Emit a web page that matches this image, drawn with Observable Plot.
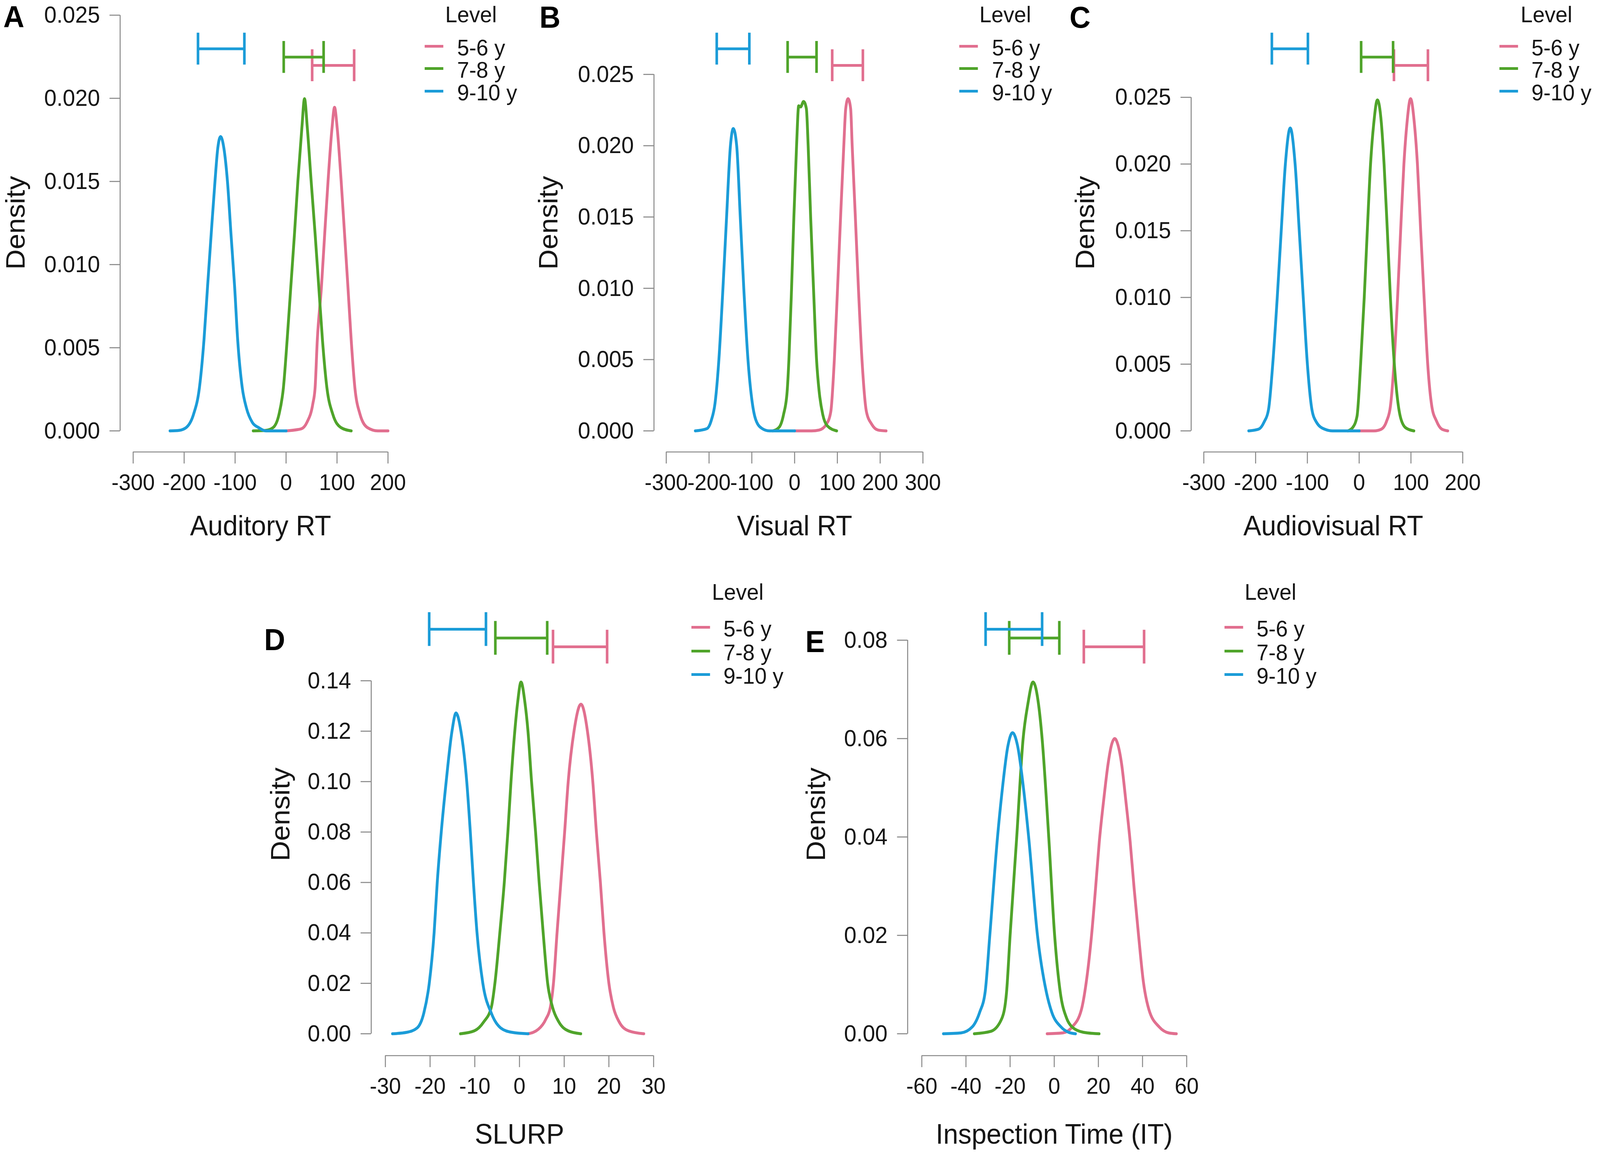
<!DOCTYPE html>
<html><head><meta charset="utf-8">
<script src="https://cdn.jsdelivr.net/npm/d3@7"></script>
<script src="https://cdn.jsdelivr.net/npm/@observablehq/plot@0.6"></script>
<style>
html,body{margin:0;padding:0;background:#fff;overflow:hidden;}
#wrap{position:relative;overflow:hidden;background:#fff;}
#fig{position:absolute;left:0;top:0;width:4295px;height:2958px;background:#fff;font-family:"Liberation Sans",Arial,Helvetica,sans-serif;color:#151515;transform-origin:0 0;}
.t{position:absolute;line-height:1;white-space:nowrap;}
.sw{position:absolute;height:7px;}
#fig svg{position:absolute;}
</style></head><body><div id="wrap"><div id="fig"></div></div>
<script>
// ---------- categories & labels ----------
const levels = ["5-6 y", "7-8 y", "9-10 y"];
const legendTitle = "Level";
const panelLetters = ["A", "B", "C", "D", "E"];
const xTitles = ["Auditory RT", "Visual RT", "Audiovisual RT", "SLURP", "Inspection Time (IT)"];
const yTitle = "Density";

// ---------- tick values ----------
const xTicksAud = [-300, -200, -100, 0, 100, 200];
const xTicksVis = [-300, -200, -100, 0, 100, 200, 300];
const xTicksAV = [-300, -200, -100, 0, 100, 200];
const xTicksSLURP = [-30, -20, -10, 0, 10, 20, 30];
const xTicksIT = [-60, -40, -20, 0, 20, 40, 60];
const yTicksRT = [0, 0.005, 0.010, 0.015, 0.020, 0.025];
const yTicksSLURP = [0, 0.02, 0.04, 0.06, 0.08, 0.10, 0.12, 0.14];
const yTicksIT = [0, 0.02, 0.04, 0.06, 0.08];

// ---------- density curves: [value, density] ----------
const aud56 = [[0,0],[29.5,0.00012],[41.1,0.00052],[52.6,0.00164],[57,0.0026],[61.3,0.00547],[69.4,0.00866],[75.8,0.01184],[82.4,0.01503],[90.2,0.01822],[95.1,0.01946],[100.3,0.01822],[108.1,0.01503],[114.8,0.01184],[121.4,0.00866],[127.8,0.00547],[135,0.0026],[145.1,0.001],[159.6,0.0002],[180,0],[200,0]];
const aud78 = [[-64.4,0],[-40,0.00003],[-25.4,0.0002],[-13.8,0.001],[-5.2,0.0026],[2.1,0.00547],[9.3,0.00866],[16.5,0.01184],[23.2,0.01503],[31,0.01822],[36.2,0.01998],[41.7,0.01822],[49.2,0.01503],[57,0.01184],[64.2,0.00866],[71.4,0.00547],[80.1,0.0026],[91.7,0.001],[107.6,0.0002],[127.8,0]];
const aud910 = [[-227.7,0],[-210,0.00003],[-196,0.0002],[-181.5,0.001],[-170,0.0026],[-161,0.0055],[-154,0.0087],[-147,0.0118],[-139.5,0.015],[-134,0.017],[-128.5,0.0177],[-122,0.017],[-115,0.015],[-108,0.0118],[-101,0.0087],[-95,0.0055],[-86,0.0026],[-78,0.0014],[-66,0.0005],[-54,0.0002],[-40,0],[0,0]];

const vis56 = [[0,0],[40,0],[57.5,0.00006],[74.2,0.00046],[84.6,0.00135],[92.9,0.005],[100.4,0.01],[107.5,0.015],[115,0.02],[119.5,0.0226],[125,0.0233],[131,0.0226],[134.6,0.02],[142,0.015],[149.2,0.01],[157.5,0.005],[167.9,0.00135],[180.4,0.00046],[195,0.00006],[213.8,0]];
const vis78 = [[-50.8,0],[-36,0.00026],[-25.8,0.00115],[-17.5,0.00274],[-13.3,0.005],[-7.1,0.01],[-1.7,0.015],[4.6,0.02],[9.6,0.0228],[14,0.02272],[21,0.0231],[27.5,0.0226],[31.7,0.02],[37.5,0.015],[44.2,0.01],[51.3,0.005],[57.5,0.00274],[65.8,0.00115],[76.3,0.00036],[98.3,0]];
const vis910 = [[-232,0],[-205,0.00016],[-194.6,0.00075],[-186,0.00194],[-177,0.005],[-167.5,0.01],[-159,0.015],[-150,0.02],[-143.3,0.0212],[-135.4,0.02],[-127,0.015],[-118.8,0.01],[-109,0.005],[-98.8,0.00194],[-90.4,0.00075],[-75.8,0.00016],[-59,0],[0,0]];

const av56 = [[0,0],[28.9,0],[42.9,0.00013],[53.3,0.00076],[60.3,0.00182],[67.2,0.005],[74.2,0.01],[80.1,0.015],[86.4,0.02],[92.3,0.02305],[99.3,0.0249],[106.6,0.02305],[112.5,0.02],[118.8,0.015],[125.4,0.01],[132.4,0.005],[140.4,0.00182],[149.1,0.00076],[159.6,0.00013],[171,0]];
const av78 = [[-21.6,0],[-12.9,0.00023],[-4.2,0.00108],[2.8,0.005],[9.8,0.01],[15.7,0.015],[22,0.02],[28.2,0.02305],[35.2,0.0248],[42.9,0.02305],[48.1,0.02],[54.4,0.015],[60.3,0.01],[67.9,0.005],[79.4,0.00108],[89.9,0.00023],[105.6,0]];
const av910 = [[-213.2,0],[-194,0.00013],[-183.6,0.00066],[-175,0.00161],[-166.9,0.005],[-158.2,0.01],[-150.5,0.015],[-142.5,0.02],[-133.1,0.0227],[-123.7,0.02],[-115.7,0.015],[-108,0.01],[-100,0.005],[-91.3,0.00161],[-82.6,0.00066],[-66.9,0.00013],[-51.2,0],[0,0]];

const slurp56 = [[1.9,0],[4.2,0.00175],[5.9,0.0058],[6.9,0.0105],[7.6,0.02],[8.4,0.04],[9.25,0.06],[10.1,0.08],[10.9,0.1],[12.2,0.12],[13.75,0.1307],[15.2,0.12],[16.4,0.1],[17.2,0.08],[18.1,0.06],[18.9,0.04],[20,0.02],[21,0.0105],[22.3,0.0047],[24.4,0.00116],[27.8,0]];
const slurp78 = [[-13.2,0],[-10.1,0.00116],[-8,0.0047],[-6.3,0.0105],[-5.5,0.02],[-4.4,0.04],[-3.4,0.06],[-2.6,0.08],[-1.9,0.1],[-1.05,0.12],[-0.4,0.1316],[0.34,0.1395],[1.2,0.1316],[1.9,0.12],[2.7,0.1],[3.6,0.08],[4.4,0.06],[5.3,0.04],[6.3,0.02],[7.4,0.0105],[8.8,0.0047],[10.9,0.00116],[13.7,0]];
const slurp910 = [[-28.4,0],[-25.2,0.00058],[-22.9,0.0023],[-21.4,0.0082],[-20.2,0.0198],[-19.1,0.04],[-18.4,0.06],[-17.5,0.08],[-16.4,0.1],[-15.1,0.12],[-14.2,0.1272],[-13.1,0.12],[-11.8,0.1],[-11,0.08],[-10.3,0.06],[-9.5,0.04],[-8.2,0.02],[-6.3,0.0082],[-4.2,0.0023],[-1.7,0.00058],[1.9,0]];

const it56 = [[-3.2,0],[3.9,0.00018],[8.1,0.00137],[12.3,0.0049],[14.5,0.0105],[16.9,0.02],[18.7,0.0295],[20.4,0.039],[22.4,0.0475],[24.4,0.0549],[26,0.0588],[27.4,0.06],[28.8,0.0588],[30.5,0.0549],[32.4,0.0475],[34.4,0.039],[36.2,0.0295],[38.2,0.02],[40.4,0.0105],[42.9,0.0049],[47.6,0.00137],[51.8,0.00018],[55.3,0]];
const it78 = [[-36.2,0],[-28.8,0.00048],[-23.7,0.00316],[-21.6,0.00852],[-20,0.02],[-17,0.04],[-14.1,0.06],[-12,0.0669],[-9.6,0.0715],[-7.1,0.0669],[-5.5,0.06],[-2.5,0.04],[0.17,0.02],[2.7,0.00852],[5.6,0.00316],[8.1,0.00137],[13.2,0.0003],[20.3,0]];
const it910 = [[-50.2,0],[-42.2,0.00018],[-37.2,0.00137],[-33.8,0.00435],[-31.3,0.00852],[-29.2,0.02],[-25.7,0.04],[-23.7,0.049],[-21,0.0585],[-18.9,0.0612],[-16.6,0.0585],[-13.7,0.049],[-11.6,0.04],[-7.6,0.02],[-3.6,0.00852],[-1.1,0.00435],[3.1,0.00137],[6.5,0.0003],[9.6,0]];

// ---------- interval bars [lower, upper] per level (5-6, 7-8, 9-10) ----------
const ciAud = [[51.2,133.6],[-4.6,73.7],[-172.8,-81.8]];
const ciVis = [[87.9,159.6],[-16.3,51.3],[-182,-105.8]];
const ciAV = [[67.2,132.8],[3.8,65.5],[-168.6,-99]];
const ciSLURP = [[7.5,19.6],[-5.4,6.2],[-20.2,-7.5]];
const ciIT = [[13.4,40.7],[-20.4,2.3],[-31.1,-5.5]];

// ---------- styles & layout ----------
const levelColors = ["#e16f8f", "#4fa42a", "#1b9cd8"];
const GRAY = "#8a8a8a", INK = "#151515";
const FONT = '"Liberation Sans", Arial, Helvetica, sans-serif';
const topRow = {svgTop: 0, svgHeight: 1420, plotTop: 82, zeroY: 1103, frameBottom: 1157, xTitleBase: 1370, densityY: 570};
const botRow = {svgTop: 1480, svgHeight: 1478, plotTop: 1566, zeroY: 2647, frameBottom: 2703, xTitleBase: 2928, densityY: 2085};
const panels = [
  {curves: [aud56, aud78, aud910], ci: ciAud, xTicks: xTicksAud, yTicks: yTicksRT, yFormat: ".3f", title: xTitles[0], letter: panelLetters[0],
   L: {...topRow, svgLeft: 0, axisX: 322, xStart: 357, xEnd: 1041, densityX: 43},
   leg: {levelLeft: 1195, levelY: 36, lineX: 1140, lineYs: [118.5, 175.5, 233.5], textLeft: 1227}, let: [9, 14]},
  {curves: [vis56, vis78, vis910], ci: ciVis, xTicks: xTicksVis, yTicks: yTicksRT, yFormat: ".3f", title: xTitles[1], letter: panelLetters[1],
   L: {...topRow, svgLeft: 1400, axisX: 1755, xStart: 1788, xEnd: 2477, densityX: 1473},
   leg: {levelLeft: 2629, levelY: 36, lineX: 2575, lineYs: [118.5, 175.5, 233.5], textLeft: 2663}, let: [1448, 15]},
  {curves: [av56, av78, av910], ci: ciAV, xTicks: xTicksAV, yTicks: yTicksRT, yFormat: ".3f", title: xTitles[2], letter: panelLetters[2],
   L: {...topRow, svgLeft: 2840, axisX: 3197, xStart: 3231, xEnd: 3926, densityX: 2914},
   leg: {levelLeft: 4082, levelY: 36, lineX: 4025, lineYs: [118.5, 175.5, 233.5], textLeft: 4111}, let: [2871, 15]},
  {curves: [slurp56, slurp78, slurp910], ci: ciSLURP, xTicks: xTicksSLURP, yTicks: yTicksSLURP, yFormat: ".2f", title: xTitles[3], letter: panelLetters[3],
   L: {...botRow, svgLeft: 690, axisX: 996, xStart: 1034, xEnd: 1754, densityX: 753},
   leg: {levelLeft: 1911, levelY: 1515, lineX: 1856, lineYs: [1606, 1667, 1727], textLeft: 1942}, let: [709, 1609]},
  {curves: [it56, it78, it910], ci: ciIT, xTicks: xTicksIT, yTicks: yTicksIT, yFormat: ".2f", title: xTitles[4], letter: panelLetters[4],
   L: {...botRow, svgLeft: 2130, axisX: 2436, xStart: 2474, xEnd: 3185, densityX: 2191},
   leg: {levelLeft: 3341, levelY: 1515, lineX: 3287, lineYs: [1606, 1667, 1727], textLeft: 3373}, let: [2162, 1614]}
];

const wrap = document.getElementById("wrap");
const fig = document.getElementById("fig");
function fit() {
  const vw = window.innerWidth || document.documentElement.clientWidth || 4295;
  const vh = window.innerHeight || document.documentElement.clientHeight || 2958;
  const sx = vw / 4295, sy = vh / 2958;
  fig.style.transform = `scale(${sx}, ${sy})`;
  wrap.style.width = (4295 * sx) + "px";
  wrap.style.height = (2958 * sy) + "px";
}
fit();
window.addEventListener("resize", fit);

function addText(str, left, capMid, size, extra = {}) {
  const d = document.createElement("div");
  d.className = "t";
  d.textContent = str;
  d.style.left = left + "px";
  d.style.top = (capMid - 0.49 * size) + "px";
  d.style.fontSize = size + "px";
  Object.assign(d.style, extra);
  fig.appendChild(d);
}

function drawPanel(p) {
  const L = p.L;
  const peak = d3.max(p.curves.flat(), d => d[1]);
  const yTop = peak * 1.2;
  const barY = [1.1, 1.125, 1.15].map(k => k * peak);
  const cap = 0.048 * peak;
  const width = L.xEnd - L.svgLeft + 110;
  const height = L.svgHeight;
  const marks = [
    Plot.ruleY([0], {x1: p.xTicks[0], x2: p.xTicks[p.xTicks.length - 1], dy: L.frameBottom - L.zeroY, stroke: GRAY, strokeWidth: 2.7}),
    Plot.ruleX([p.xTicks[0]], {y1: 0, y2: p.yTicks[p.yTicks.length - 1], dx: -(L.xStart - L.axisX), stroke: GRAY, strokeWidth: 2.7}),
    Plot.axisX({ticks: p.xTicks, tickFormat: d => String(d), tickSize: 30, tickPadding: 26, fontSize: 58, stroke: GRAY, strokeWidth: 2.7, fill: INK, label: null}),
    Plot.axisY({ticks: p.yTicks, tickFormat: d3.format(p.yFormat), tickSize: 28, tickPadding: 26, fontSize: 60, stroke: GRAY, strokeWidth: 2.7, fill: INK, label: null})
  ];
  p.curves.forEach((c, i) => {
    marks.push(Plot.line(c, {x: d => d[0], y: d => d[1], stroke: levelColors[i], strokeWidth: 7.5, curve: "monotone-x"}));
  });
  p.ci.forEach((c, i) => {
    const b = [{lo: c[0], hi: c[1], y: barY[i]}];
    marks.push(Plot.ruleY(b, {y: "y", x1: "lo", x2: "hi", stroke: levelColors[i], strokeWidth: 7}));
    marks.push(Plot.ruleX(b, {x: "lo", y1: d => d.y - cap, y2: d => d.y + cap, stroke: levelColors[i], strokeWidth: 7}));
    marks.push(Plot.ruleX(b, {x: "hi", y1: d => d.y - cap, y2: d => d.y + cap, stroke: levelColors[i], strokeWidth: 7}));
  });
  marks.push(Plot.text([p.title], {text: d => d, frameAnchor: "bottom", lineAnchor: "bottom", dx: (L.xStart - L.axisX) / 2, dy: L.xTitleBase - L.frameBottom, fontSize: 72, fill: INK}));
  marks.push(Plot.text([yTitle], {text: d => d, frameAnchor: "left", rotate: -90, textAnchor: "middle", lineAnchor: "middle", dx: L.densityX - L.axisX, dy: L.densityY - (L.plotTop + L.frameBottom) / 2, fontSize: 72, fill: INK}));

  const svg = Plot.plot({
    width, height,
    marginLeft: L.axisX - L.svgLeft,
    marginRight: width - (L.xEnd - L.svgLeft),
    marginTop: L.plotTop - L.svgTop,
    marginBottom: L.svgTop + height - L.frameBottom,
    x: {domain: [p.xTicks[0], p.xTicks[p.xTicks.length - 1]], insetLeft: L.xStart - L.axisX, insetRight: 0},
    y: {domain: [0, yTop], insetBottom: L.frameBottom - L.zeroY, insetTop: 0},
    style: {fontFamily: FONT, background: "transparent", overflow: "visible", color: INK},
    marks
  });
  svg.style.left = L.svgLeft + "px";
  svg.style.top = L.svgTop + "px";
  fig.appendChild(svg);

  // panel letter
  addText(p.letter, p.let[0], p.let[1] + 28, 78, {fontWeight: "bold", color: "#000"});
  // legend
  const g = p.leg;
  addText(legendTitle, g.levelLeft, g.levelY, 58);
  levels.forEach((lv, i) => {
    const s = document.createElement("div");
    s.className = "sw";
    s.style.left = g.lineX + "px";
    s.style.top = (g.lineYs[i] - 3.5) + "px";
    s.style.width = "50px";
    s.style.background = levelColors[i];
    fig.appendChild(s);
    addText(lv, g.textLeft, g.lineYs[i] + 3, 58);
  });
}
panels.forEach(drawPanel);
</script>
</body></html>
